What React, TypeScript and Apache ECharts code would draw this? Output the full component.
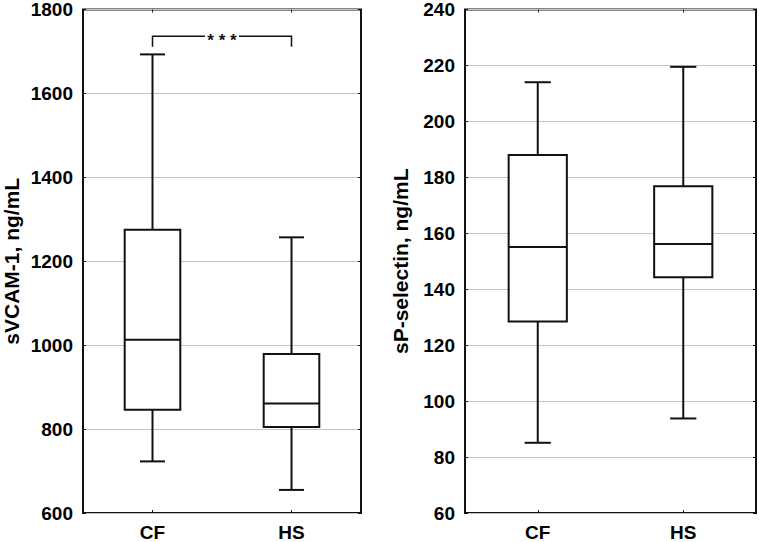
import React, { useEffect, useRef } from "react";
import * as echarts from "echarts";

const categories = ["CF", "HS"];
// [min, Q1, median, Q3, max]
const vcamStats = [
  [723, 846, 1013, 1275, 1693],
  [655, 805, 861, 979, 1257],
];
const selectinStats = [
  [85.1, 128.5, 155.1, 188, 214],
  [93.8, 144.3, 156.2, 176.8, 219.5],
];
const vcamAxis = { min: 600, max: 1800, interval: 200 };
const selectinAxis = { min: 60, max: 240, interval: 20 };
const sigPair = [0, 1];
const sigLevel = 1736;
const sigDrop = 1711;
const sigLabel = "***";

const FONT = "'Liberation Sans', Arial, sans-serif";
const INK = "#111";

function boxRender(params: any, api: any) {
  const x = api.value(0);
  const vmin = api.value(1);
  const q1 = api.value(2);
  const med = api.value(3);
  const q3 = api.value(4);
  const vmax = api.value(5);
  const catW = api.size([1, 0])[0];
  const bw = catW * 0.4;
  const cw = catW * 0.18;
  const pMin = api.coord([x, vmin]);
  const pQ1 = api.coord([x, q1]);
  const pMed = api.coord([x, med]);
  const pQ3 = api.coord([x, q3]);
  const pMax = api.coord([x, vmax]);
  const cx = pMin[0];
  const ls = { stroke: INK, lineWidth: 2, fill: "none" };
  return {
    type: "group",
    children: [
      { type: "line", shape: { x1: cx, y1: pMax[1], x2: cx, y2: pQ3[1] }, style: ls },
      { type: "line", shape: { x1: cx, y1: pQ1[1], x2: cx, y2: pMin[1] }, style: ls },
      { type: "line", shape: { x1: cx - cw / 2, y1: pMax[1], x2: cx + cw / 2, y2: pMax[1] }, style: ls },
      { type: "line", shape: { x1: cx - cw / 2, y1: pMin[1], x2: cx + cw / 2, y2: pMin[1] }, style: ls },
      {
        type: "rect",
        shape: { x: cx - bw / 2, y: pQ3[1], width: bw, height: pQ1[1] - pQ3[1] },
        style: { stroke: INK, lineWidth: 2, fill: "#fff" },
      },
      { type: "line", shape: { x1: cx - bw / 2, y1: pMed[1], x2: cx + bw / 2, y2: pMed[1] }, style: ls },
    ],
  };
}

function sigRender(params: any, api: any) {
  const a = api.coord([api.value(0), api.value(2)]);
  const b = api.coord([api.value(1), api.value(2)]);
  const drop = api.coord([api.value(0), api.value(3)]);
  const mid = (a[0] + b[0]) / 2;
  const gap = 17;
  const ls = { stroke: INK, lineWidth: 1.5, fill: "none" };
  return {
    type: "group",
    children: [
      { type: "polyline", shape: { points: [[a[0], drop[1]], [a[0], a[1]], [mid - gap, a[1]]] }, style: ls },
      { type: "polyline", shape: { points: [[mid + gap, b[1]], [b[0], b[1]], [b[0], drop[1]]] }, style: ls },
      {
        type: "text",
        x: mid,
        y: a[1] + 4,
        style: {
          text: sigLabel.split("").join(" "),
          fill: INK,
          font: `bold 17px ${FONT}`,
          align: "center",
          verticalAlign: "middle",
        },
      },
    ],
  };
}

function axesFor(gridIndex: number, rng: any, name: string, nameGap: number) {
  const labelStyle = { fontSize: 19, fontWeight: "bold", color: "#000", fontFamily: FONT };
  const tick = { show: true, inside: true, length: 3, lineStyle: { color: INK, width: 1 } };
  const x = [
    {
      type: "category",
      gridIndex,
      data: categories,
      position: "bottom",
      axisLine: { show: false },
      axisTick: { ...tick, alignWithLabel: true },
      axisLabel: { ...labelStyle, margin: 10 },
      splitLine: { show: false },
    },
    {
      type: "category",
      gridIndex,
      data: categories,
      position: "top",
      axisLine: { show: false },
      axisTick: { ...tick, alignWithLabel: true },
      axisLabel: { show: false },
      splitLine: { show: false },
    },
  ];
  const y = [
    {
      type: "value",
      gridIndex,
      min: rng.min,
      max: rng.max,
      interval: rng.interval,
      position: "left",
      name,
      nameLocation: "middle",
      nameGap,
      nameRotate: 90,
      nameTextStyle: { fontSize: 21, fontWeight: "bold", color: "#000", fontFamily: FONT },
      axisLine: { show: false },
      axisTick: tick,
      axisLabel: { ...labelStyle, margin: 10, formatter: (v: number) => String(v) },
      splitLine: { show: true, lineStyle: { color: "#c4c4c4", width: 1 } },
    },
    {
      type: "value",
      gridIndex,
      min: rng.min,
      max: rng.max,
      interval: rng.interval,
      position: "right",
      axisLine: { show: false },
      axisTick: tick,
      axisLabel: { show: false },
      splitLine: { show: false },
    },
  ];
  return { x, y };
}

export default function App() {
  const ref = useRef<HTMLDivElement>(null);
  useEffect(() => {
    if (!ref.current) return;
    const chart = echarts.init(ref.current, null, { renderer: "svg" });
    const a0 = axesFor(0, vcamAxis, "sVCAM-1, ng/mL", 61);
    const a1 = axesFor(1, selectinAxis, "sP-selectin, ng/mL", 54);
    const option: any = {
      animation: false,
      backgroundColor: "#fff",
      grid: [
        { left: 82, right: 398, top: 9, bottom: 28, show: true, borderColor: INK, borderWidth: 2, backgroundColor: "transparent" },
        { left: 465, right: 3, top: 9, bottom: 28, show: true, borderColor: INK, borderWidth: 2, backgroundColor: "transparent" },
      ],
      xAxis: [...a0.x, ...a1.x],
      yAxis: [...a0.y, ...a1.y],
      series: [
        {
          type: "custom",
          xAxisIndex: 0,
          yAxisIndex: 0,
          renderItem: boxRender,
          encode: { x: 0, y: [1, 2, 3, 4, 5] },
          data: vcamStats.map((s, i) => [i, ...s]),
          z: 3,
        },
        {
          type: "custom",
          xAxisIndex: 0,
          yAxisIndex: 0,
          renderItem: sigRender,
          encode: { x: [0, 1], y: [2, 3] },
          data: [[sigPair[0], sigPair[1], sigLevel, sigDrop]],
          z: 3,
        },
        {
          type: "custom",
          xAxisIndex: 2,
          yAxisIndex: 2,
          renderItem: boxRender,
          encode: { x: 0, y: [1, 2, 3, 4, 5] },
          data: selectinStats.map((s, i) => [i, ...s]),
          z: 3,
        },
      ],
    };
    chart.setOption(option);
    return () => chart.dispose();
  }, []);
  return (
    <div
      ref={ref}
      style={{ position: "fixed", left: 0, top: 0, width: 759, height: 542, background: "#fff" }}
    />
  );
}
